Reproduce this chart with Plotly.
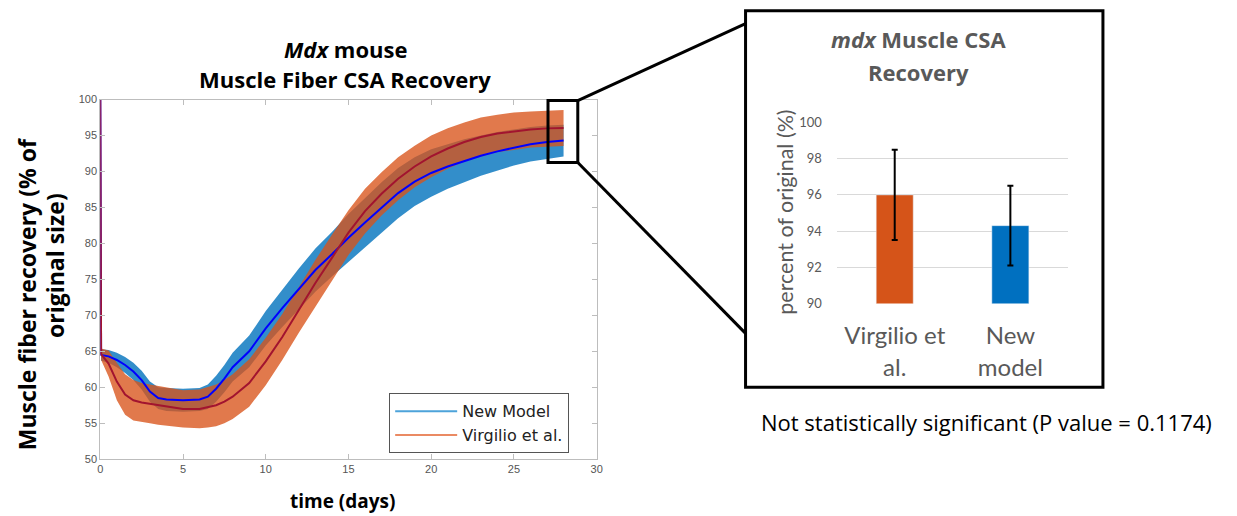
import plotly.graph_objects as go

W, H = 1237, 516

# ---------------- data: time course (left panel) ----------------
time_days = [0, 0.05, 0.5, 1, 1.5, 2, 2.5, 3, 3.5, 4, 5, 6, 6.5, 7, 7.5, 8, 9, 10,
             11, 12, 13, 14, 15, 16, 17, 18, 19, 20, 21, 22, 23, 24, 25, 26, 27, 28]
new_model_mean = [100, 64.5, 64.3, 63.8, 63.1, 62.2, 61.0, 59.4, 58.5, 58.3, 58.2, 58.3, 58.7,
                  59.8, 61.2, 62.8, 65.0, 68.2, 71.0, 73.7, 76.3, 78.5, 80.8, 82.9, 85.0,
                  87.0, 88.6, 89.8, 90.7, 91.5, 92.2, 92.8, 93.35, 93.8, 94.1, 94.3]
new_model_sd = [None, 0.8, 0.9, 1.0, 1.1, 1.2, 1.3, 1.4, 1.5, 1.6, 1.6, 1.6, 1.7, 1.8, 1.9, 2.0,
                2.2, 2.4, 2.6, 2.8, 3.0, 3.1, 3.3, 3.4, 3.5, 3.5, 3.4, 3.3, 3.1, 3.0, 2.8,
                2.7, 2.5, 2.4, 2.3, 2.2]
virgilio_mean = [100, 64.6, 63.3, 60.8, 59.0, 58.2, 57.9, 57.7, 57.5, 57.3, 57.0, 57.0, 57.2,
                 57.5, 58.0, 58.7, 60.6, 63.6, 67.0, 70.8, 74.5, 78.0, 81.5, 84.5, 86.9,
                 89.0, 90.7, 92.1, 93.2, 94.1, 94.8, 95.3, 95.6, 95.85, 96.0, 96.05]
virgilio_sd = [None, 0.8, 1.8, 2.6, 2.8, 2.8, 2.7, 2.7, 2.7, 2.7, 2.6, 2.7, 2.8, 2.9, 3.0, 3.1,
               3.3, 3.3, 3.2, 3.2, 3.2, 3.2, 3.1, 3.1, 3.0, 3.0, 2.9, 2.9, 2.8, 2.7, 2.7,
               2.6, 2.6, 2.5, 2.5, 2.5]
series_names = ["New Model", "Virgilio et al."]

# ---------------- data: final recovery (right panel) ----------------
bar_categories = ["Virgilio et<br>al.", "New<br>model"]
bar_values = [96.0, 94.3]
bar_err_plus = [2.5, 2.2]
bar_err_minus = [2.5, 2.2]
bar_yticks = [90, 92, 94, 96, 98, 100]
left_xticks = [0, 5, 10, 15, 20, 25, 30]
left_yticks = [50, 55, 60, 65, 70, 75, 80, 85, 90, 95, 100]


def px(x):
    return x / W


def py(y):
    # vertical pixel position (as measured on the photographed page) -> paper fraction
    yd = (y - 7.3) / 0.97
    return 1 - yd / H


def band(t, m, s):
    tt = [a for a, b in zip(t, s) if b is not None]
    up = [a + b for a, b in zip(m, s) if b is not None]
    lo = [a - b for a, b in zip(m, s) if b is not None]
    return tt + tt[::-1], up + lo[::-1]


fig = go.Figure()

bx, by = band(time_days, new_model_mean, new_model_sd)
fig.add_trace(go.Scatter(x=bx, y=by, fill="toself", mode="lines", line=dict(width=0),
                         fillcolor="rgba(0,114,189,0.80)", showlegend=False, hoverinfo="skip",
                         xaxis="x", yaxis="y"))
bx, by = band(time_days, virgilio_mean, virgilio_sd)
fig.add_trace(go.Scatter(x=bx, y=by, fill="toself", mode="lines", line=dict(width=0),
                         fillcolor="rgba(217,83,25,0.78)", showlegend=False, hoverinfo="skip",
                         xaxis="x", yaxis="y"))
fig.add_trace(go.Scatter(x=time_days, y=new_model_mean, mode="lines",
                         line=dict(color="#0000FF", width=2), showlegend=False,
                         xaxis="x", yaxis="y"))
fig.add_trace(go.Scatter(x=time_days, y=virgilio_mean, mode="lines",
                         line=dict(color="#A2142F", width=2), showlegend=False,
                         xaxis="x", yaxis="y"))
# legend entries
fig.add_trace(go.Scatter(x=[None], y=[None], mode="lines", name=series_names[0],
                         line=dict(color="#4DA3DA", width=2), xaxis="x", yaxis="y"))
fig.add_trace(go.Scatter(x=[None], y=[None], mode="lines", name=series_names[1],
                         line=dict(color="#EA8A63", width=2), xaxis="x", yaxis="y"))

# bar chart
fig.add_trace(go.Bar(x=bar_categories, y=bar_values, marker=dict(color=["#D55419", "#0070C0"]),
                     error_y=dict(type="data", symmetric=False, array=bar_err_plus,
                                  arrayminus=bar_err_minus, color="black", thickness=2, width=3),
                     width=0.32, showlegend=False, xaxis="x2", yaxis="y2"))

axis_gray = "#BDBDBD"
tick_font = dict(family="Liberation Sans", size=11, color="#555555")
title_font = "Open Sans"

fig.update_layout(
    width=W, height=H, margin=dict(l=0, r=0, t=0, b=0),
    paper_bgcolor="white", plot_bgcolor="white",
    xaxis=dict(domain=[px(98), px(598)], range=[0, 30], tickvals=left_xticks,
               showline=True, linecolor=axis_gray, linewidth=1, mirror="ticks",
               ticks="inside", ticklen=5, tickcolor=axis_gray, showgrid=False,
               zeroline=False, tickfont=tick_font),
    yaxis=dict(domain=[py(459), py(99)], range=[50, 100], tickvals=left_yticks,
               showline=True, linecolor=axis_gray, linewidth=1, mirror="ticks",
               ticks="inside", ticklen=5, tickcolor=axis_gray, showgrid=False,
               zeroline=False, tickfont=tick_font),
    xaxis2=dict(domain=[px(840), px(1073)], showline=False, ticks="",
                tickfont=dict(family="Lato", size=24, color="#595959"),
                ticklabelstandoff=16, anchor="y2"),
    yaxis2=dict(domain=[py(303), py(122)], range=[90, 100], tickvals=bar_yticks,
                showgrid=True, gridcolor="#D9D9D9", gridwidth=1, zeroline=False,
                showline=False, ticks="", anchor="x2",
                tickfont=dict(family="Lato", size=13, color="#595959"),
                ticklabelstandoff=14),
    legend=dict(x=px(389), y=py(393), xanchor="left", yanchor="top",
                bgcolor="white", bordercolor="#555555", borderwidth=1,
                font=dict(family="DejaVu Sans", size=16, color="#222222"),
                itemwidth=62, tracegroupgap=0),
    bargap=0.68,
)

annotations = [
    dict(text="<b><i>Mdx</i> mouse</b>", x=px(345), y=py(48), font=dict(family=title_font, size=22, color="black")),
    dict(text="<b>Muscle Fiber CSA Recovery</b>", x=px(345), y=py(78), font=dict(family=title_font, size=22, color="black")),
    dict(text="<b>time (days)</b>", x=px(342), y=py(501), font=dict(family=title_font, size=19, color="black")),
    dict(text="<b>Muscle fiber recovery (% of</b>", x=px(25), y=py(294), textangle=-90,
         font=dict(family=title_font, size=23, color="black")),
    dict(text="<b>original size)</b>", x=px(53), y=py(265), textangle=-90,
         font=dict(family=title_font, size=23, color="black")),
    dict(text="<b><i>mdx</i> Muscle CSA</b>", x=px(922), y=py(38), font=dict(family=title_font, size=22, color="#595959")),
    dict(text="<b>Recovery</b>", x=px(922), y=py(71), font=dict(family=title_font, size=22, color="#595959")),
    dict(text="percent of original (%)", x=px(788), y=py(212), textangle=-90,
         font=dict(family="Lato", size=21.5, color="#595959")),
    dict(text="Not statistically significant (P value = 0.1174)", x=px(991), y=py(422),
         font=dict(family=title_font, size=22, color="black")),
]
for a in annotations:
    a.update(xref="paper", yref="paper", showarrow=False, xanchor="center", yanchor="middle")
fig.update_layout(annotations=annotations)

line_k = dict(color="black", width=3)
shapes = [
    dict(type="rect", x0=px(549), x1=px(579), y0=py(162), y1=py(100), line=line_k),
    dict(type="rect", x0=px(748), x1=px(1108), y0=py(387), y1=py(10), line=line_k),
    dict(type="line", x0=px(579), y0=py(100), x1=px(748), y1=py(23), line=line_k),
    dict(type="line", x0=px(579), y0=py(162), x1=px(748), y1=py(333), line=line_k),
]
for s in shapes:
    s.update(xref="paper", yref="paper")
fig.update_layout(shapes=shapes)

fig.write_html("out.html", config={"displayModeBar": False},
               post_script="document.body.style.margin='0';document.body.style.overflow='hidden';")
